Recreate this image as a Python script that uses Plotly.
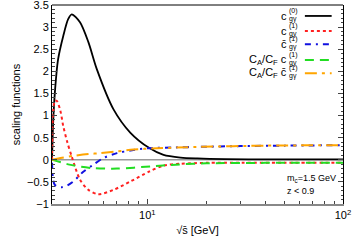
import plotly.graph_objects as go

# --- data ---
x_c0 = [3.26, 3.3, 3.37, 3.5, 3.72, 3.94, 4.11, 4.53, 5.0, 5.52, 6.72, 8.2, 10.2, 12.1, 14.8, 18, 25, 40, 100]
y_c0 = [0.0, 0.8, 1.52, 2.27, 2.8, 3.18, 3.29, 3.11, 2.66, 2.05, 1.14, 0.61, 0.27, 0.11, 0.05, 0.03, 0.015, 0.01, 0.01]

x_c1 = [3.26, 3.3, 3.37, 3.45, 3.6, 3.72, 3.9, 4.11, 4.53, 5.0, 5.62, 6.72, 8.2, 10.2, 12.1, 14.8, 20, 30, 50, 100]
y_c1 = [0.0, 1.06, 1.34, 1.33, 1.1, 0.76, 0.4, 0.075, -0.45, -0.68, -0.78, -0.68, -0.49, -0.27, -0.13, -0.09, -0.07, -0.07, -0.07, -0.07]

x_cb1 = [3.26, 3.3, 3.37, 3.45, 3.66, 3.9, 4.19, 4.71, 5.3, 5.97, 7.0, 8.2, 10.0, 14, 18, 30, 50, 100]
y_cb1 = [-0.07, -0.45, -0.57, -0.6, -0.62, -0.58, -0.49, -0.27, -0.11, 0.04, 0.15, 0.21, 0.26, 0.28, 0.29, 0.31, 0.32, 0.33]

x_ca1 = [3.26, 4.0, 4.6, 5.3, 7.0, 10.4, 14, 20, 40, 100]
y_ca1 = [0.0, -0.11, -0.16, -0.19, -0.2, -0.15, -0.11, -0.08, -0.07, -0.07]

x_cab1 = [3.26, 3.6, 4.2, 5.0, 5.75, 7.0, 8.5, 10, 18, 40, 100]
y_cab1 = [0.0, 0.04, 0.09, 0.13, 0.15, 0.19, 0.23, 0.25, 0.29, 0.32, 0.33]

y_ticks = [-1, -0.5, 0, 0.5, 1, 1.5, 2, 2.5, 3, 3.5]
x_ticks = [10, 100]
x_ticktext = ["10<sup>1</sup>", "10<sup>2</sup>"]
x_minor = [4, 5, 6, 7, 8, 9, 20, 30, 40, 50, 60, 70, 80, 90]

FONT = "Liberation Sans, Arial, sans-serif"

series = [
    (x_c0, y_c0, "black", "solid", 1.8, "c", "(0)"),
    (x_c1, y_c1, "#ff2020", "dot", 2.0, "c", "(1)"),
    (x_cb1, y_cb1, "#1010e0", "6px,5px,2px,5px", 2.0, "c\u0304", "(1)"),
    (x_ca1, y_ca1, "#22dd22", "9px,6px", 2.0, "C<sub>A</sub>/C<sub>F</sub> c", "(1)"),
    (x_cab1, y_cab1, "orange", "12px,5px,3px,5px", 2.0, "C<sub>A</sub>/C<sub>F</sub> c\u0304", "(1)"),
]

fig = go.Figure()
for xs, ys, col, dash, w, _, _ in series:
    fig.add_trace(go.Scatter(x=xs, y=ys, mode="lines", line=dict(color=col, dash=dash, width=w, shape="spline", smoothing=0.8),
                             showlegend=False, hoverinfo="skip"))

# zero line
fig.add_shape(type="line", xref="paper", yref="y", x0=0, x1=1, y0=0, y1=0, line=dict(color="#999999", width=1.5), layer="below")
# top border
fig.add_shape(type="line", xref="paper", yref="paper", x0=0, x1=1, y0=1, y1=1, line=dict(color="black", width=1))

# manual legend (text left of sample line)
leg_y = [0.945, 0.869, 0.803, 0.724, 0.657]
for (xs, ys, col, dash, w, main, sup), yy in zip(series, leg_y):
    fig.add_shape(type="line", xref="paper", yref="paper", x0=0.869, x1=0.961, y0=yy, y1=yy,
                  line=dict(color=col, dash=dash, width=w))
    fig.add_annotation(xref="paper", yref="paper", x=0.813, y=yy, text=main, showarrow=False,
                       xanchor="right", yanchor="middle", font=dict(family=FONT, size=11, color="black"))
    fig.add_annotation(xref="paper", yref="paper", x=0.809, y=yy, text=sup, showarrow=False,
                       xanchor="left", yanchor="middle", yshift=5, font=dict(family=FONT, size=7, color="black"))
    fig.add_annotation(xref="paper", yref="paper", x=0.809, y=yy, text="gγ", showarrow=False,
                       xanchor="left", yanchor="middle", yshift=-3, font=dict(family=FONT, size=7, color="black"))

fig.add_annotation(xref="paper", yref="paper", x=0.802, y=0.13, text="m<sub>c</sub>=1.5 GeV", showarrow=False,
                   xanchor="left", yanchor="middle", font=dict(family=FONT, size=9, color="black"))
fig.add_annotation(xref="paper", yref="paper", x=0.802, y=0.067, text="z &lt; 0.9", showarrow=False,
                   xanchor="left", yanchor="middle", font=dict(family=FONT, size=9, color="black"))

fig.update_layout(
    width=353, height=241,
    margin=dict(l=52, r=10, t=5, b=37),
    paper_bgcolor="white", plot_bgcolor="white",
    font=dict(family=FONT, size=11, color="black"),
    xaxis=dict(type="log", range=[0.513, 2.0], tickmode="array", tickvals=x_ticks, ticktext=x_ticktext,
               ticks="inside", ticklen=5, showgrid=False, zeroline=False, automargin=False,
               showline=True, linecolor="#888888", linewidth=2, mirror=False, ticklabeloverflow="allow",
               minor=dict(tickmode="array", tickvals=x_minor, ticks="inside", ticklen=3, tickcolor="#444444", showgrid=False),
               title=dict(text="\u221as\u0304 [GeV]", font=dict(size=11), standoff=6),
               tickfont=dict(size=11)),
    yaxis=dict(range=[-1, 3.5001], tickmode="array", tickvals=y_ticks, ticks="inside", ticklen=5, automargin=False,
               showgrid=False, zeroline=False, showline=True, linecolor="black", linewidth=1, mirror="ticks",
               ticklabeloverflow="allow",
               minor=dict(dtick=0.1, ticks="inside", ticklen=2.5, tickcolor="#444444", showgrid=False),
               title=dict(text="scaling functions", font=dict(size=11), standoff=4),
               tickfont=dict(size=11)),
)

fig.write_html("out.html", config={"displayModeBar": False},
               post_script="document.body.style.margin='0';document.body.style.overflow='hidden';")
